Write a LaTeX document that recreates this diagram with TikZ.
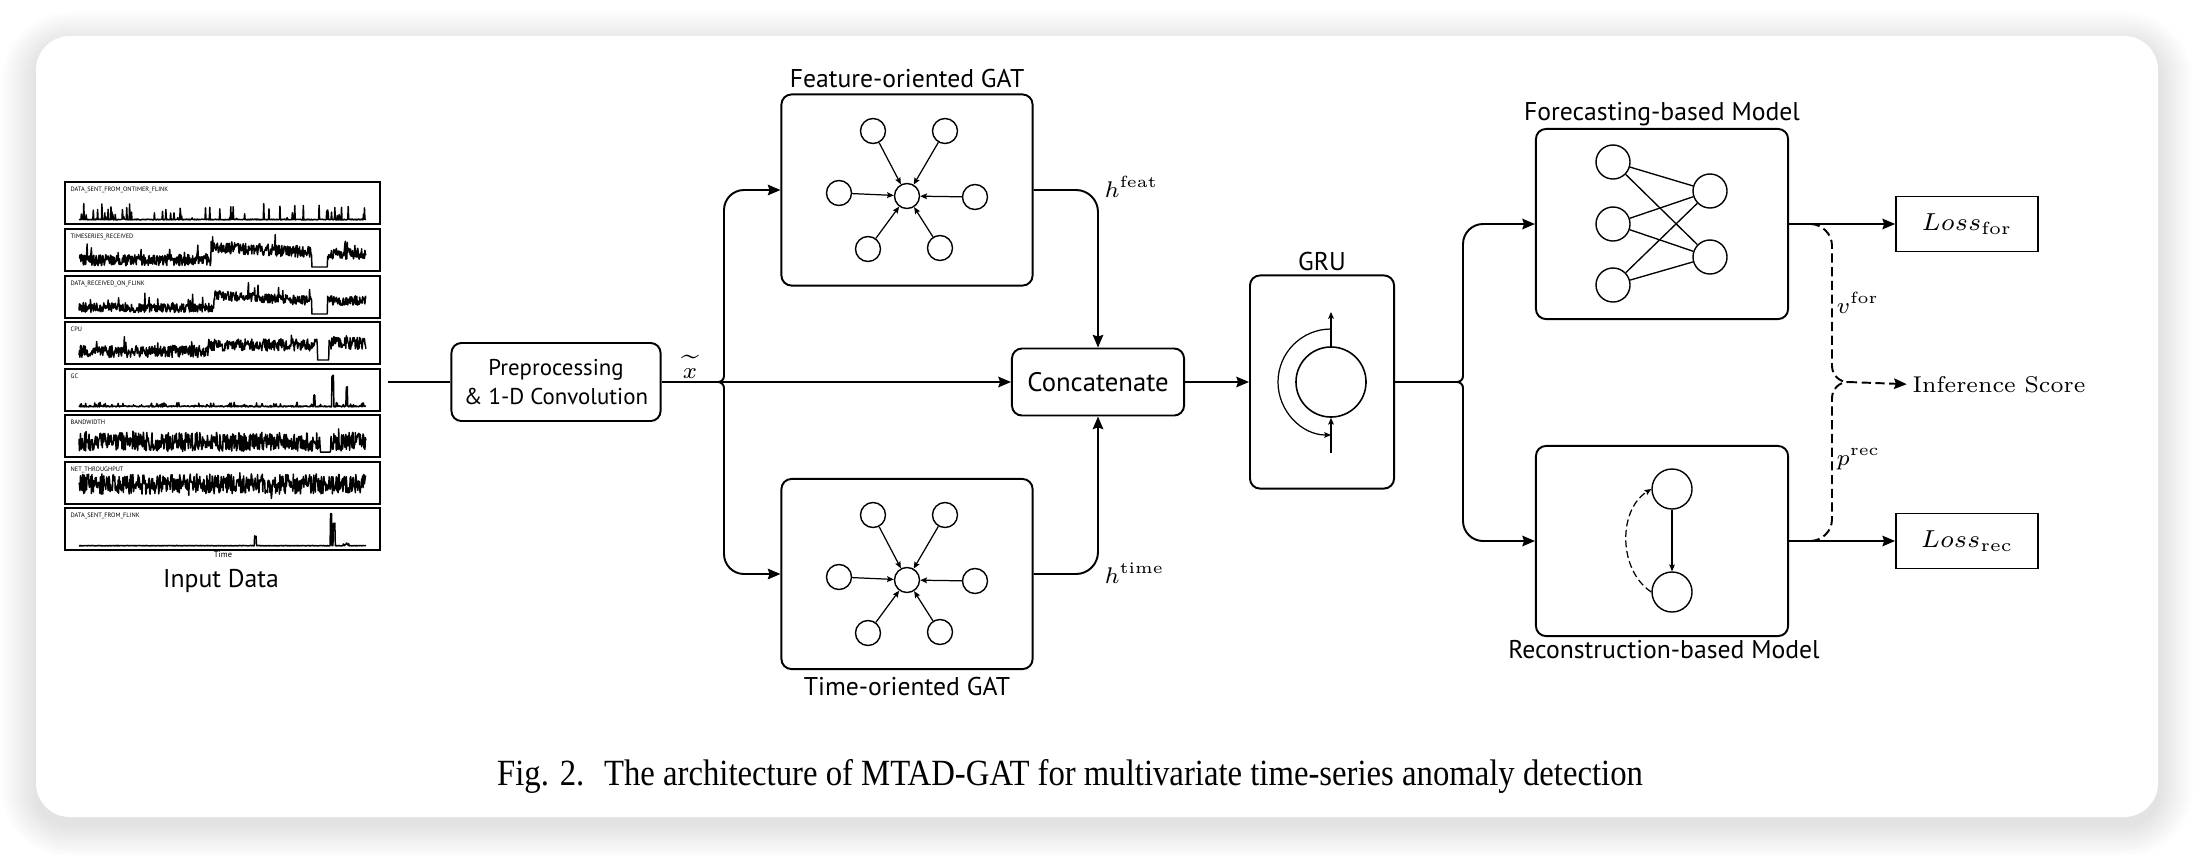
\documentclass[tikz,border=0pt]{standalone}
\usepackage{fontspec}
\usepackage{graphicx}
\usetikzlibrary{arrows.meta,positioning,calc}
\newfontfamily\labelfont{PT Sans}
\newfontfamily\capfont{Liberation Serif}

\tikzset{
  blk/.style={draw, line width=0.55pt, rounded corners=0.1cm, inner sep=0pt},
  ttl/.style={font=\labelfont\fontsize{7.3}{9}\selectfont, inner sep=0pt, anchor=base},
  conn/.style={line width=0.55pt},
  flow/.style={conn, -{Stealth[length=3.6pt,width=3pt,inset=0.5pt]}},
  tinyarrow/.style={line width=0.35pt, -{Stealth[length=1.9pt,width=1.6pt,inset=0.3pt]}},
  gnode/.style={draw, circle, line width=0.4pt, minimum size=0.25cm, inner sep=0pt},
  nnode/.style={gnode, minimum size=0.34cm},
  rnode/.style={gnode, minimum size=0.40cm},
  lossbox/.style={draw, line width=0.5pt, minimum width=1.42cm, minimum height=0.55cm, inner sep=0pt, font=\fontsize{7}{9}\selectfont},
  mathlbl/.style={font=\fontsize{7}{9}\selectfont, inner sep=0pt},
  dashline/.style={conn, dash pattern=on 2.6pt off 1.3pt},
  series/.style={line width=0.42pt, line join=round},
}

% one small time-series plot of the input data
\newcommand{\seriespanel}[4]{%
  \draw[line width=0.4pt] (65,#1) rectangle (380,#1+42);
  \node[anchor=north west, inner sep=0pt, font=\labelfont\fontsize{1.8}{2}\selectfont] (ts#4) at (70,#1+4) {#2};
  \draw[series] plot[domain=0:1, samples=600, variable=\t] ({79+287*\t}, {#1+38-32*(#3)});
}

% star of attention edges inside a GAT block
\newcommand{\gatstar}[3]{%
  \begin{scope}[shift={(#2,#3)}]
    \node[gnode] (#1hub) at (0,0) {};
    \foreach \nm/\dx/\dy in {a/-34/-65,b/38/-65,c/-68/-3,d/68/1,e/-39/53,f/33/52}{
      \node[gnode] (#1\nm) at (\dx,\dy) {};
      \draw[tinyarrow] (#1\nm) -- (#1hub);
    }
  \end{scope}}

\begin{document}
\begin{tikzpicture}[x=0.01cm, y=-0.01cm]
\useasboundingbox (0,0) rectangle (2194,854);

% card with soft shadow
\foreach \k in {1,...,14}{
  \pgfmathsetmacro{\rr}{0.34+0.025*\k}
  \fill[black, opacity=0.009, rounded corners=\rr cm] (36-2.5*\k, 44-2.3*\k) rectangle (2158+2.5*\k, 825+2.3*\k);
}
\fill[white, rounded corners=0.34cm] (36,36) rectangle (2158,817);

% Input data
\pgfmathsetseed{4217}
\seriespanel{182}{DATA\_SENT\_FROM\_ONTIMER\_FLINK}{0.03*rnd+(rnd>0.9)*0.45*rnd+(rnd>0.985)*0.5}{1}
\seriespanel{229}{TIMESERIES\_RECEIVED}{((\t<0.81)+(\t>0.865))*(0.04+(\t>0.46)*(\t<0.81)*(0.4-0.45*(\t-0.46))+(\t>0.865)*0.2+0.36*rnd+(rnd>0.95)*0.4*rnd)}{2}
\seriespanel{276}{DATA\_RECEIVED\_ON\_FLINK}{((\t<0.81)+(\t>0.865))*(0.05+(\t>0.47)*(\t<0.81)*(0.38-0.5*(\t-0.47))+(\t>0.865)*0.22+0.3*rnd+(rnd>0.95)*0.35*rnd)}{3}
\seriespanel{322}{CPU}{((\t<0.83)+(\t>0.87))*(0.08+(\t>0.45)*0.2+(\t>0.87)*0.05+0.38*rnd+(rnd>0.96)*0.35*rnd)}{4}
\seriespanel{369}{GC}{0.04*rnd+(rnd>0.85)*0.12*rnd+(abs(\t-0.82)<0.003)*0.35+(abs(\t-0.884)<0.003)*0.95+(abs(\t-0.933)<0.003)*0.6}{5}
\seriespanel{415}{BANDWIDTH}{((\t<0.84)+(\t>0.875))*(0.02+0.6*rnd+(rnd>0.97)*0.3*rnd)+0.03}{6}
\seriespanel{462}{NET\_THROUGHPUT}{0.5+0.32*rand+(rnd>0.97)*0.25*rand}{7}
\seriespanel{508}{DATA\_SENT\_FROM\_FLINK}{0.02*rnd+(abs(\t-0.615)<0.003)*0.3+(abs(\t-0.878)<0.003)*1+(abs(\t-0.889)<0.003)*0.7+(\t>0.92)*(\t<0.94)*0.08*rnd}{8}
\node[inner sep=0pt, font=\labelfont\fontsize{2.4}{3}\selectfont] (tlbl) at (223,555) {Time};
\node[ttl] (inlbl) at (221,587) {Input Data};

% blocks
\node[blk, minimum width=2.09cm, minimum height=0.78cm, align=center, font=\labelfont\fontsize{6.5}{8}\selectfont] (pre) at (556,382) {Preprocessing\\\& 1-D Convolution};
\node[blk, minimum width=2.51cm, minimum height=1.91cm] (fgat) at (907,190) {};
\node[blk, minimum width=2.51cm, minimum height=1.90cm] (tgat) at (907,574) {};
\node[blk, minimum width=1.72cm, minimum height=0.67cm, font=\labelfont\fontsize{7.6}{9}\selectfont] (concat) at (1098,382) {Concatenate};
\node[blk, minimum width=1.44cm, minimum height=2.13cm] (gru) at (1322,382) {};
\node[blk, minimum width=2.52cm, minimum height=1.90cm] (fore) at (1662,224) {};
\node[blk, minimum width=2.52cm, minimum height=1.90cm] (recon) at (1662,541) {};
\node[lossbox] (lossf) at (1967,224) {$Loss_{\mathrm{for}}$};
\node[lossbox] (lossr) at (1967,541) {$Loss_{\mathrm{rec}}$};

% block titles
\node[ttl] (fgatlbl) at (907,87) {Feature-oriented GAT};
\node[ttl] (tgatlbl) at (907,695) {Time-oriented GAT};
\node[ttl] (grulbl) at (1322,270) {GRU};
\node[ttl] (forelbl) at (1662,120) {Forecasting-based Model};
\node[ttl] (reclbl) at (1664,658) {Reconstruction-based Model};

% GAT graphs
\gatstar{fs}{907}{196}
\gatstar{tm}{907}{580}

% GRU cell
\node[draw, circle, line width=0.45pt, minimum size=0.70cm, inner sep=0pt] (gcell) at (1331,382) {};
\coordinate (gtop) at (1331,312);
\coordinate (gbot) at (1331,453);
\draw[tinyarrow] (gcell.north) -- (gtop);
\draw[tinyarrow] (gbot) -- (gcell.south);
\draw[tinyarrow] (1331,329) arc[start angle=270, end angle=90, radius=53];

% forecasting net
\foreach \i/\yy in {1/162,2/224,3/285}
  \node[nnode] (fin\i) at (1613,\yy) {};
\foreach \j/\yy in {1/191,2/257}
  \node[nnode] (fout\j) at (1710,\yy) {};
\foreach \i in {1,2,3}
  \foreach \j in {1,2}
    \draw[line width=0.38pt] (fin\i) -- (fout\j);

% reconstruction (VAE)
\node[rnode] (rtop) at (1672,489) {};
\node[rnode] (rbot) at (1672,592) {};
\draw[tinyarrow] (rtop) -- (rbot);
\draw[tinyarrow, dash pattern=on 2pt off 1pt] (rbot.west) .. controls (1618,570) and (1618,510) .. (rtop.west);

% labels
\node[mathlbl, anchor=base] (xt) at (690,378) {\scalebox{0.92}{$\widetilde{x}$}};
\node[mathlbl, anchor=base west] (hf) at (1104,197) {\scalebox{0.92}{$h^{\mathrm{feat}}$}};
\node[mathlbl, anchor=base west] (ht) at (1104,583) {\scalebox{0.92}{$h^{\mathrm{time}}$}};
\node[mathlbl, anchor=base west] (vf) at (1836,313) {\scalebox{0.92}{$v^{\mathrm{for}}$}};
\node[mathlbl, anchor=base west] (pr) at (1836,465) {\scalebox{0.92}{$p^{\mathrm{rec}}$}};
\node[mathlbl, anchor=base west, font=\fontsize{6.5}{8}\selectfont] (infs) at (1912,392) {Inference Score};

% connections
\coordinate (inend) at (388,382);
\draw[conn] (inend) -- (pre.west);
\draw[flow] (pre.east) -- (concat.west);
\coordinate (xtip) at (718,382);
\draw[flow] (xtip) [rounded corners=0.06cm] -| (724,330) [rounded corners=0.2cm] |- (fgat.west);
\draw[flow] (xtip) [rounded corners=0.06cm] -| (724,430) [rounded corners=0.2cm] |- (tgat.west);
\draw[flow, rounded corners=0.22cm] (fgat.east) -| (concat.north);
\draw[flow, rounded corners=0.22cm] (tgat.east) -| (concat.south);
\draw[flow] (concat.east) -- (gru.west);
\coordinate (gtip) at (1457,382);
\draw[conn] (gru.east) -- (gtip);
\draw[flow] (gtip) [rounded corners=0.06cm] -| (1463,340) [rounded corners=0.2cm] |- (fore.west);
\draw[flow] (gtip) [rounded corners=0.06cm] -| (1463,420) [rounded corners=0.2cm] |- (recon.west);
\draw[flow] (fore.east) -- (lossf.west);
\draw[flow] (recon.east) -- (lossr.west);

% anomaly score
\coordinate (stip) at (1848,382);
\draw[dashline] ($(fore.east)+(8,0)$) [rounded corners=0.22cm] -| (1832,340) [rounded corners=0.16cm] |- (stip);
\draw[dashline] ($(recon.east)+(8,0)$) [rounded corners=0.22cm] -| (1832,420) [rounded corners=0.16cm] |- (stip);
\draw[dashline, -{Stealth[length=3.6pt,width=3pt,inset=0.5pt]}] (stip) -- ([xshift=-1.5pt]infs.west);

% caption
\node[anchor=base, inner sep=0pt] (cap) at (1070,785) {\resizebox{11.45cm}{0.26cm}{\capfont Fig. 2.\hspace{0.6em}The architecture of MTAD-GAT for multivariate time-series anomaly detection}};

\end{tikzpicture}
\end{document}
